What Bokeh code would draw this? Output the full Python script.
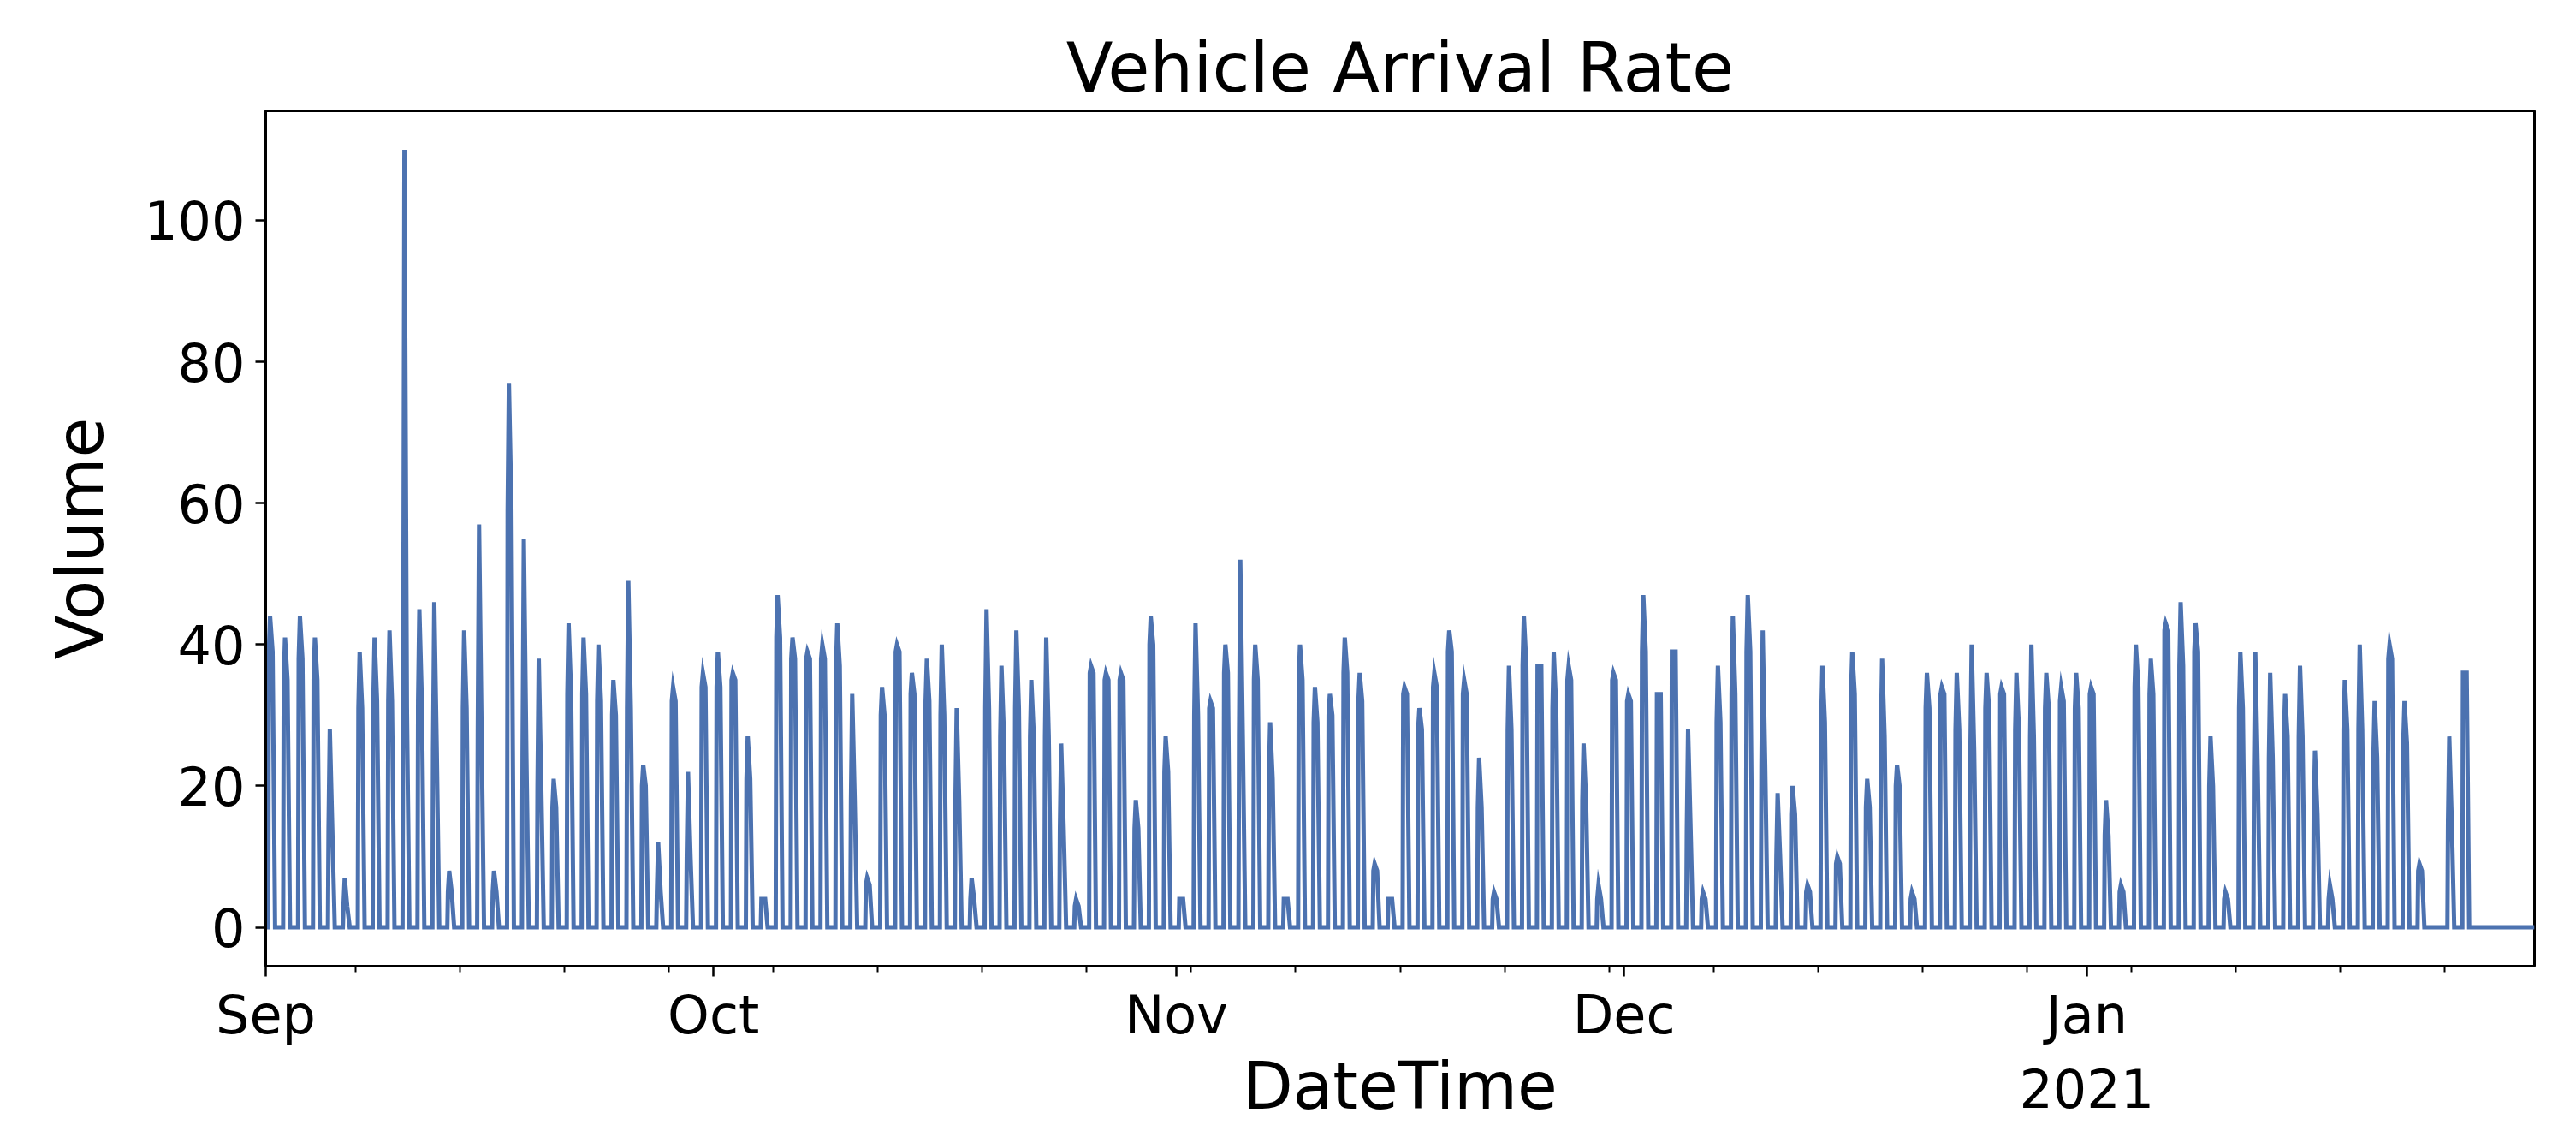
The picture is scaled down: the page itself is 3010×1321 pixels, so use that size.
import pandas as pd
from bokeh.plotting import figure
from bokeh.models import Range1d, FixedTicker, ColumnDataSource
from bokeh.embed import file_html
from bokeh.resources import INLINE

# ---------------- data ----------------
start_date = "2020-09-01"
end_date = "2021-01-31"

# daily peak volume (vehicles / hour), Sep 1 2020 .. Jan 30 2021
peak = [44, 41, 44, 41, 28, 7, 39, 41, 42, 110, 45, 46, 8, 42, 57, 8, 77, 55, 38, 21,
        43, 41, 40, 35, 49, 23, 12, 34, 22, 36, 39, 36, 27, 4, 47, 41, 39, 40, 43, 33,
        7, 34, 40, 36, 38, 40, 31, 7, 45, 37, 42, 35, 41, 26, 4, 37, 36, 36, 18, 44,
        27, 4, 43, 32, 40, 52, 40, 29, 4, 40, 34, 33, 41, 36, 9, 4, 34, 31, 36, 42,
        35, 24, 5, 37, 44, 37, 39, 37, 26, 6, 36, 33, 47, 33, 39, 28, 5, 37, 44, 47,
        42, 19, 20, 6, 37, 10, 39, 21, 38, 23, 5, 36, 34, 36, 40, 36, 34, 36, 40, 36,
        34, 36, 34, 18, 6, 40, 38, 43, 46, 43, 27, 5, 39, 39, 36, 33, 37, 25, 6, 35,
        40, 32, 40, 32, 9, 0, 27, 36, 0, 0, 0, 0]

# level around the daily peak (before / after)
second = [39, 35, 38, 35, 14, 3, 31, 32, 32, 31, 32, 25, 5, 31, 28, 5, 59, 25, 20, 17,
          33, 33, 32, 30, 31, 20, 5, 32, 10, 34, 34, 35, 21, 4, 41, 38, 38, 38, 37, 18,
          6, 30, 39, 33, 32, 30, 18, 4, 31, 27, 31, 27, 27, 14, 3, 36, 35, 35, 14, 40,
          22, 4, 30, 31, 36, 27, 35, 21, 4, 35, 29, 30, 36, 32, 8, 4, 33, 28, 34, 39,
          33, 17, 4, 28, 37, 37, 31, 35, 18, 4, 35, 32, 39, 33, 39, 14, 4, 29, 33, 39,
          23, 10, 16, 5, 29, 9, 33, 17, 27, 20, 4, 31, 33, 28, 25, 31, 33, 28, 27, 31,
          32, 31, 33, 13, 5, 34, 33, 42, 37, 39, 20, 4, 31, 22, 24, 27, 27, 16, 4, 28,
          28, 24, 38, 26, 8, 0, 15, 36, 0, 0, 0, 0]

month_starts = ["2020-09-01", "2020-10-01", "2020-11-01", "2020-12-01", "2021-01-01"]
month_labels = ["Sep", "Oct", "Nov", "Dec", "Jan\n2021"]
y_ticks = [0, 20, 40, 60, 80, 100]

# hours of the day at which the daily levels are placed
profile_hours = [0, 4, 5, 7, 11, 15]

# ---------------- build the series ----------------
days = pd.date_range(start_date, periods=len(peak), freq="D")
xs, ys = [], []
for d, pk, sc in zip(days, peak, second):
    for h, v in zip(profile_hours, [0, 0, sc, pk, sc, 0]):
        xs.append(d + pd.Timedelta(hours=h))
        ys.append(v)
xs.append(pd.Timestamp(end_date))
ys.append(0)
src = ColumnDataSource(data=dict(t=xs, v=ys))

def ms(ts):
    return pd.Timestamp(ts).value / 1e6

x0, x1 = ms(start_date), ms(end_date)
major = [ms(m) for m in month_starts]
mondays = [ms(t) for t in pd.date_range("2020-09-07", end_date, freq="7D")]

FONT = "DejaVu Sans"

p = figure(x_axis_type="datetime", frame_width=2651, frame_height=999,
           x_range=Range1d(x0, x1), y_range=Range1d(-5.5, 115.5),
           output_backend="svg", toolbar_location=None,
           min_border_left=310, min_border_top=129, min_border_right=49,
           min_border_bottom=150)

p.line("t", "v", source=src, line_color="#4C72B0", line_width=5,
       line_join="miter")

p.title.text = "Vehicle Arrival Rate"
p.title.align = "center"
p.title.text_font = FONT
p.title.text_font_size = "80px"
p.title.text_font_style = "normal"
p.title.text_color = "black"
p.title.standoff = 8

p.xgrid.visible = False
p.ygrid.visible = False
p.outline_line_color = "black"
p.outline_line_width = 3
p.background_fill_color = "white"
p.border_fill_color = "white"

p.xaxis.ticker = FixedTicker(ticks=major, minor_ticks=mondays)
p.xaxis.major_label_overrides = {m: lab for m, lab in zip(major, month_labels)}
p.yaxis.ticker = FixedTicker(ticks=y_ticks)

for ax in (p.xaxis[0], p.yaxis[0]):
    ax.axis_line_width = 3
    ax.axis_line_color = "black"
    ax.major_tick_line_width = 2.5
    ax.major_tick_line_color = "black"
    ax.major_tick_out = 12
    ax.major_tick_in = 0
    ax.minor_tick_line_width = 2
    ax.minor_tick_line_color = "black"
    ax.minor_tick_out = 7
    ax.minor_tick_in = 0
    ax.major_label_text_font = FONT
    ax.major_label_text_font_size = "62px"
    ax.major_label_text_color = "black"
    ax.axis_label_text_font = FONT
    ax.axis_label_text_font_size = "76px"
    ax.axis_label_text_font_style = "normal"
    ax.axis_label_text_color = "black"

p.yaxis.minor_tick_out = 0
p.yaxis.major_label_standoff = 12
p.yaxis.axis_label = "Volume"
p.yaxis.axis_label_standoff = 27

p.xaxis.major_label_standoff = 8
p.xaxis.axis_label = "DateTime"
p.xaxis.axis_label_standoff = -88

open("out.html", "w").write(file_html(p, INLINE))
